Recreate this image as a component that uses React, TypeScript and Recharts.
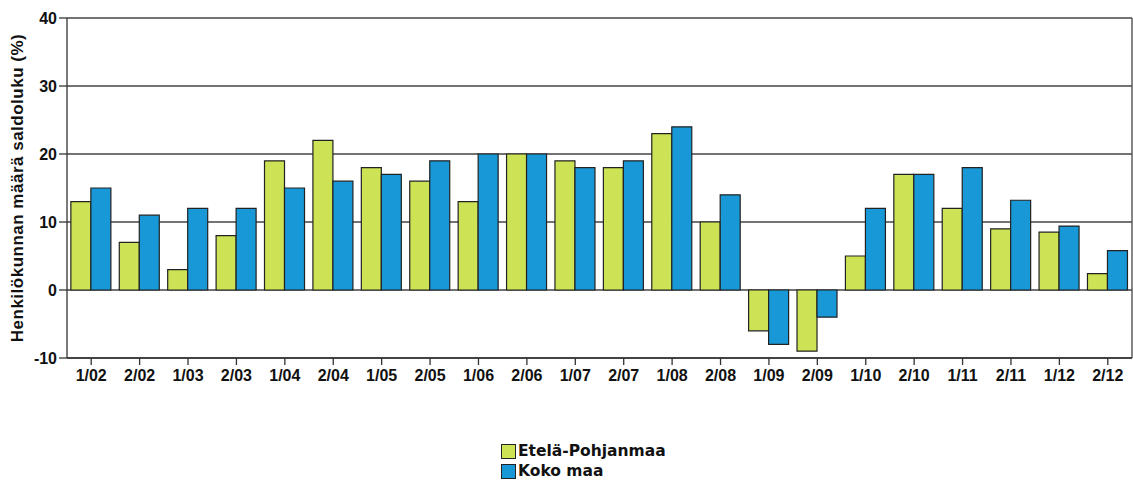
import React from 'react';
import {
  BarChart,
  Bar,
  XAxis,
  YAxis,
  CartesianGrid,
  Legend,
} from 'recharts';

// Data
const periods = [
  '1/02', '2/02', '1/03', '2/03', '1/04', '2/04', '1/05', '2/05', '1/06', '2/06', '1/07',
  '2/07', '1/08', '2/08', '1/09', '2/09', '1/10', '2/10', '1/11', '2/11', '1/12', '2/12',
];
const etelaPohjanmaa = [13, 7, 3, 8, 19, 22, 18, 16, 13, 20, 19, 18, 23, 10, -6, -9, 5, 17, 12, 9, 8.5, 2.4];
const kokoMaa = [15, 11, 12, 12, 15, 16, 17, 19, 20, 20, 18, 19, 24, 14, -8, -4, 12, 17, 18, 13.2, 9.4, 5.8];
const yTicks = [-10, 0, 10, 20, 30, 40];

const GREEN = '#cde355';
const BLUE = '#1898d6';
const FONT = '"Liberation Sans", Arial, sans-serif';

const data = periods.map((p, i) => ({
  period: p,
  ep: etelaPohjanmaa[i],
  koko: kokoMaa[i],
}));

function LegendBox() {
  const items = [
    { label: 'Etelä-Pohjanmaa', color: GREEN },
    { label: 'Koko maa', color: BLUE },
  ];
  return (
    <div style={{ fontFamily: '"DejaVu Sans", Verdana, sans-serif', fontWeight: 'bold', fontSize: 15.5, color: '#111' }}>
      {items.map((it) => (
        <div key={it.label} style={{ display: 'flex', alignItems: 'center', height: 20 }}>
          <span
            style={{
              display: 'inline-block',
              width: 13,
              height: 13,
              background: it.color,
              border: '1px solid #222',
              marginRight: 2,
            }}
          />
          {it.label}
        </div>
      ))}
    </div>
  );
}

export default function App() {
  return (
    <div style={{ position: 'absolute', left: 0, top: 0, background: '#fff' }}>
      <BarChart
        width={1133}
        height={481}
        data={data}
        margin={{ top: 18, right: 1, left: 0, bottom: 93 }}
        barCategoryGap="8%"
        barGap={0}
      >
        <CartesianGrid
          stroke="#444"
          strokeWidth={1.3}
          verticalCoordinatesGenerator={({ offset }: any) => [offset.left + offset.width]}
        />
        <XAxis
          dataKey="period"
          interval={0}
          height={30}
          axisLine={{ stroke: '#333', strokeWidth: 1.3 }}
          tickLine={{ stroke: '#333', strokeWidth: 1.3 }}
          tickSize={7}
          tickMargin={5}
          tick={{ fill: '#111', fontFamily: FONT, fontWeight: 'bold', fontSize: 16 }}
        />
        <YAxis
          width={67}
          domain={[-10, 40]}
          ticks={yTicks}
          interval={0}
          axisLine={{ stroke: '#333', strokeWidth: 1.3 }}
          tickLine={{ stroke: '#333', strokeWidth: 1.3 }}
          tickSize={8}
          tickMargin={2}
          tick={{ fill: '#111', fontFamily: FONT, fontWeight: 'bold', fontSize: 16 }}
          label={{
            value: 'Henkilökunnan määrä saldoluku (%)',
            angle: -90,
            position: 'insideLeft',
            dx: 12,
            dy: 0,
            style: {
              textAnchor: 'middle',
              fill: '#111',
              fontFamily: FONT,
              fontWeight: 'bold',
              fontSize: 17,
              letterSpacing: 0.5,
            },
          }}
        />
        <Legend
          content={<LegendBox />}
          layout="horizontal"
          verticalAlign="middle"
          wrapperStyle={{ left: 501, top: 441, width: 240 }}
        />
        <Bar dataKey="ep" name="Etelä-Pohjanmaa" fill={GREEN} stroke="#222" strokeWidth={1.2} isAnimationActive={false} />
        <Bar dataKey="koko" name="Koko maa" fill={BLUE} stroke="#222" strokeWidth={1.2} isAnimationActive={false} />
      </BarChart>
    </div>
  );
}
